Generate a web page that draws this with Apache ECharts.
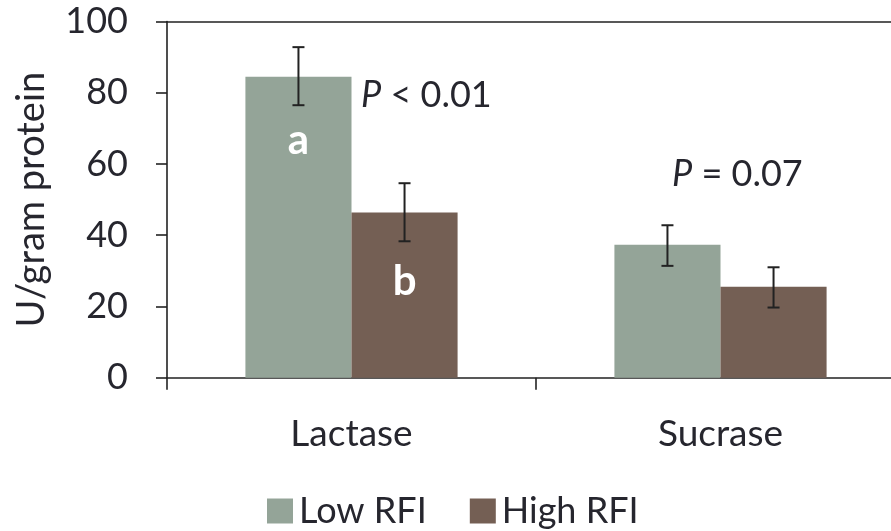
<!DOCTYPE html>
<html>
<head>
<meta charset="utf-8">
<script src="https://cdn.jsdelivr.net/npm/echarts@6/dist/echarts.min.js"></script>
<style>html,body{margin:0;padding:0;background:#fff;}#c{width:891px;height:531px;}</style>
</head>
<body>
<div id="c"></div>
<script>
var categories = ['Lactase', 'Sucrase'];
var lowRFI = [84.5, 37.3];
var highRFI = [46.4, 25.5];
var lowErrMin = [76.5, 31.4];
var lowErrMax = [92.8, 42.8];
var highErrMin = [38.3, 19.7];
var highErrMax = [54.6, 31.0];
var yTicks = [0, 20, 40, 60, 80, 100];
var seriesNames = ['Low RFI', 'High RFI'];
var pNotes = ['< 0.01', '= 0.07'];
var letterLow = ['a', ''];
var letterHigh = ['b', ''];

var FONT = 'Lato, "Open Sans", sans-serif';
var TXT = '#26262e';
var LINE = '#222222';
var C_LOW = '#94a498';
var C_HIGH = '#745f54';
var GAP = 0.425;

function barData(vals, letters, offs) {
  return vals.map(function (v, i) {
    if (!letters[i]) return v;
    return {
      value: v,
      label: {
        show: true, formatter: letters[i], position: ['50%', offs], align: 'center', verticalAlign: 'middle',
        color: '#ffffff', fontSize: 42, fontWeight: 'bold', fontFamily: FONT
      }
    };
  });
}

function errData(mins, maxs) {
  return mins.map(function (m, i) { return [i, m, maxs[i]]; });
}

function errRender(sign) {
  return function (params, api) {
    var cat = api.value(0);
    var band = api.size([1, 0])[0];
    var off = sign * band * (1 - GAP) / 4;
    var pLo = api.coord([cat, api.value(1)]);
    var pHi = api.coord([cat, api.value(2)]);
    var x = pLo[0] + off;
    var cw = 6;
    var st = { stroke: LINE, lineWidth: 2 };
    return {
      type: 'group',
      children: [
        { type: 'line', shape: { x1: x, y1: pLo[1], x2: x, y2: pHi[1] }, style: st },
        { type: 'line', shape: { x1: x - cw, y1: pLo[1], x2: x + cw, y2: pLo[1] }, style: st },
        { type: 'line', shape: { x1: x - cw, y1: pHi[1], x2: x + cw, y2: pHi[1] }, style: st }
      ]
    };
  };
}

var chart = echarts.init(document.getElementById('c'));
chart.setOption({
  animation: false,
  backgroundColor: '#ffffff',
  textStyle: { fontFamily: FONT },
  grid: { left: 167, top: 21.5, width: 738, height: 356.2, containLabel: false, outerBoundsMode: 'none' },
  legend: {
    left: 267, top: 493, padding: 0,
    itemWidth: 26, itemHeight: 25, itemGap: 43,
    icon: 'rect',
    textStyle: { fontSize: 36, color: TXT, fontFamily: FONT, padding: [0, 0, 0, 1] },
    data: seriesNames
  },
  xAxis: [{
    type: 'category', data: categories, position: 'bottom',
    axisLine: { lineStyle: { color: LINE, width: 1.6 } },
    axisTick: { show: true, alignWithLabel: false, length: 12, lineStyle: { color: LINE, width: 1.6 } },
    axisLabel: { color: TXT, fontSize: 37, margin: 38, fontFamily: FONT },
    splitLine: { show: false }
  }, {
    type: 'category', data: categories, position: 'top',
    axisLine: { show: true, lineStyle: { color: LINE, width: 1.6 } },
    axisTick: { show: false }, axisLabel: { show: false }
  }],
  yAxis: {
    type: 'value', min: yTicks[0], max: yTicks[yTicks.length - 1], interval: yTicks[1] - yTicks[0],
    name: 'U/gram protein', nameLocation: 'middle', nameGap: 116,
    nameTextStyle: { fontSize: 38, color: TXT, fontFamily: FONT },
    axisLine: { show: true, lineStyle: { color: LINE, width: 1.6 } },
    axisTick: { show: true, length: 11, lineStyle: { color: LINE, width: 1.6 } },
    axisLabel: { color: TXT, fontSize: 36, margin: 39, fontFamily: FONT },
    splitLine: { show: false }
  },
  series: [{
    name: seriesNames[0], type: 'bar', data: barData(lowRFI, letterLow, 64),
    itemStyle: { color: C_LOW }, barGap: '0%', barCategoryGap: (GAP * 100) + '%'
  }, {
    name: seriesNames[1], type: 'bar', data: barData(highRFI, letterHigh, 69),
    itemStyle: { color: C_HIGH }, barGap: '0%', barCategoryGap: (GAP * 100) + '%'
  }, {
    type: 'custom', renderItem: errRender(-1), data: errData(lowErrMin, lowErrMax), z: 5, silent: true
  }, {
    type: 'custom', renderItem: errRender(1), data: errData(highErrMin, highErrMax), z: 5, silent: true
  }],
  graphic: [{
    type: 'text', left: 361, top: 77,
    style: {
      text: '{i|P} ' + pNotes[0], fill: TXT, font: '36px ' + FONT,
      rich: { i: { fontStyle: 'italic', fontSize: 36, fontFamily: FONT, fill: TXT } }
    }
  }, {
    type: 'text', left: 672, top: 156,
    style: {
      text: '{i|P} ' + pNotes[1], fill: TXT, font: '36px ' + FONT,
      rich: { i: { fontStyle: 'italic', fontSize: 36, fontFamily: FONT, fill: TXT } }
    }
  }]
});
</script>
</body>
</html>
